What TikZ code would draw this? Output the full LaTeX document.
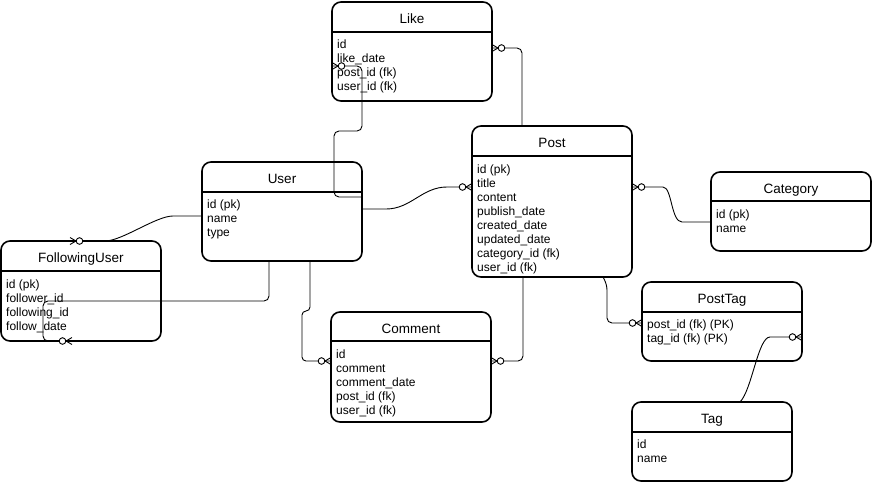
\documentclass[tikz,border=0pt]{standalone}
\usepackage{fontspec}
\setmainfont{Liberation Sans}
\usetikzlibrary{arrows.meta}

\pgfdeclarearrow{
	name = ERmany,
	setup code = {
		\pgfarrowssettipend{0pt}
		\pgfarrowssetlineend{0pt}
		\pgfarrowssetbackend{-13pt}
	},
	drawing code = {
		\pgfsetdash{}{0pt}
		\pgfpathmoveto{\pgfqpoint{0pt}{3.5pt}}
		\pgfpathlineto{\pgfqpoint{-6pt}{0pt}}
		\pgfpathlineto{\pgfqpoint{0pt}{-3.5pt}}
		\pgfusepathqstroke
		\pgfpathcircle{\pgfqpoint{-9.5pt}{0pt}}{3.3pt}
		\pgfsetfillcolor{white}
		\pgfusepathqfillstroke
	}
}

\begin{document}
\begin{tikzpicture}[x = 1pt, y = -1pt,
		entity/.style = {draw, line width = 1.6pt, rounded corners = 9pt, anchor = north west, inner sep = 0pt, outer sep = 0pt, minimum width = 160pt},
		headline/.style = {line width = 1.4pt},
		entitytitle/.style = {anchor = base, inner sep = 0pt, font = \fontsize{13.5}{16}\selectfont},
		fields/.style = {anchor = north west, align = left, inner sep = 0pt, font = \fontsize{12}{14}\selectfont},
		rel/.style = {line width = 0.9pt, rounded corners = 5pt, -{ERmany}}]
		
		\useasboundingbox (0, 0) rectangle (873, 483);
		
		\node[entity, minimum height = 99pt] (like) at (332, 2) {};
		\node[entity, minimum height = 151pt] (post) at (472, 126) {};
		\node[entity, minimum height = 99pt] (user) at (202, 162) {};
		\node[entity, minimum height = 100pt] (followinguser) at (1, 241) {};
		\node[entity, minimum height = 110pt] (comment) at (331, 312) {};
		\node[entity, minimum height = 79pt] (category) at (711, 172) {};
		\node[entity, minimum height = 79pt] (posttag) at (642, 282) {};
		\node[entity, minimum height = 79pt] (tag) at (632, 402) {};
		
		\draw[headline] ([yshift = -30pt]like.north west) -- ([yshift = -30pt]like.north east);
		\draw[headline] ([yshift = -30pt]post.north west) -- ([yshift = -30pt]post.north east);
		\draw[headline] ([yshift = -30pt]user.north west) -- ([yshift = -30pt]user.north east);
		\draw[headline] ([yshift = -30pt]followinguser.north west) -- ([yshift = -30pt]followinguser.north east);
		\draw[headline] ([yshift = -29pt]comment.north west) -- ([yshift = -29pt]comment.north east);
		\draw[headline] ([yshift = -29pt]category.north west) -- ([yshift = -29pt]category.north east);
		\draw[headline] ([yshift = -30pt]posttag.north west) -- ([yshift = -30pt]posttag.north east);
		\draw[headline] ([yshift = -30pt]tag.north west) -- ([yshift = -30pt]tag.north east);
		
		\node[entitytitle] (liketitle) at ([yshift = -21pt]like.north) {Like};
		\node[entitytitle] (posttitle) at ([yshift = -21pt]post.north) {Post};
		\node[entitytitle] (usertitle) at ([yshift = -21pt]user.north) {User};
		\node[entitytitle] (followingusertitle) at ([yshift = -21pt]followinguser.north) {FollowingUser};
		\node[entitytitle] (commenttitle) at ([yshift = -21pt]comment.north) {Comment};
		\node[entitytitle] (categorytitle) at ([yshift = -21pt]category.north) {Category};
		\node[entitytitle] (posttagtitle) at ([yshift = -21pt]posttag.north) {PostTag};
		\node[entitytitle] (tagtitle) at ([yshift = -21pt]tag.north) {Tag};
		
		\node[fields] (likefields) at ([xshift = 5pt, yshift = -38pt]like.north west) {id\\like\_date\\post\_id (fk)\\user\_id (fk)};
		\node[fields] (postfields) at ([xshift = 5pt, yshift = -39pt]post.north west) {id (pk)\\title\\content\\publish\_date\\created\_date\\updated\_date\\category\_id (fk)\\user\_id (fk)};
		\node[fields] (userfields) at ([xshift = 5pt, yshift = -38pt]user.north west) {id (pk)\\name\\type};
		\node[fields] (followinguserfields) at ([xshift = 5pt, yshift = -39pt]followinguser.north west) {id (pk)\\follower\_id\\following\_id\\follow\_date};
		\node[fields] (commentfields) at ([xshift = 5pt, yshift = -38pt]comment.north west) {id\\comment\\comment\_date\\post\_id (fk)\\user\_id (fk)};
		\node[fields] (categoryfields) at ([xshift = 5pt, yshift = -38pt]category.north west) {id (pk)\\name};
		\node[fields] (posttagfields) at ([xshift = 5pt, yshift = -38pt]posttag.north west) {post\_id (fk) (PK)\\tag\_id (fk) (PK)};
		\node[fields] (tagfields) at ([xshift = 5pt, yshift = -38pt]tag.north west) {id\\name};
		
		\draw[rel] ([xshift = -30pt]post.north) |- ([yshift = -46pt]like.north east);
		\draw[rel] ([yshift = -35pt]user.north east) -| (334, 131) -| (362, 66) -- ([yshift = -64pt]like.north west);
		\draw[rel] ([yshift = -47pt]user.north east) -- ++(19, 0) .. controls +(30, 0) and +(-30, 0) .. ([xshift = -20pt, yshift = -61pt]post.north west) -- ([yshift = -61pt]post.north west);
		\draw[rel] ([yshift = -54pt]user.north west) -- ++(-24, 0) .. controls +(-22, 0) and +(22, 0) .. (100, 241) -- ([xshift = 69pt]followinguser.north west);
		\draw[rel] ([xshift = 67pt]user.south west) |- (43, 301) |- ([xshift = 71pt]followinguser.south west);
		\draw[rel, rounded corners = 4pt] ([xshift = 108pt]user.south west) |- (302, 311) |- ([yshift = -49pt]comment.north west);
		\draw[rel] ([xshift = 51pt]post.south west) |- ([yshift = -49pt]comment.north east);
		\draw[rel] ([xshift = 131pt]post.south west) -- ++(4, 8) |- ([yshift = -41pt]posttag.north west);
		\draw[rel] ([xshift = 108pt]tag.north west) .. controls (752, 390) and (758, 337) .. (775, 337) -- ([yshift = -55pt]posttag.north east);
		\draw[rel] ([yshift = -50pt]category.north west) -- ++(-24, 0) .. controls +(-16, 0) and +(14, 0) .. ([xshift = 26pt, yshift = -61pt]post.north east) -- ([yshift = -61pt]post.north east);
		
	\end{tikzpicture}
\end{document}
